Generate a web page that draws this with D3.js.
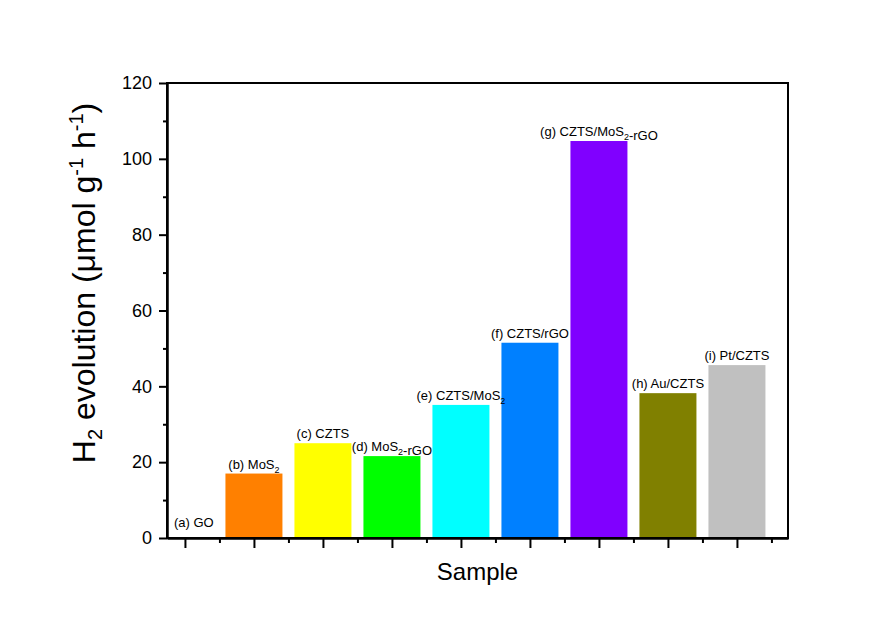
<!DOCTYPE html>
<html>
<head>
<meta charset="utf-8">
<script src="https://cdn.jsdelivr.net/npm/d3@7"></script>
<style>
  body { margin: 0; background: #fff; }
  svg text { font-family: "Liberation Sans", Arial, sans-serif; fill: #000; }
  .axis path, .axis line { stroke: #000; stroke-width: 2; }
  .axis text { font-size: 18px; }
</style>
</head>
<body>
<div id="chart"></div>
<script>
// samples, "_2" marks a subscript 2
const sampleLabels = ["(a) GO", "(b) MoS_2", "(c) CZTS", "(d) MoS_2-rGO", "(e) CZTS/MoS_2",
                      "(f) CZTS/rGO", "(g) CZTS/MoS_2-rGO", "(h) Au/CZTS", "(i) Pt/CZTS"];
const h2Rates = [0, 17.0, 25.0, 21.6, 35.1, 51.5, 104.7, 38.2, 45.6];
const barColors = ["#ffffff", "#ff8000", "#ffff00", "#00ff00", "#00ffff",
                   "#0080ff", "#8000ff", "#808000", "#c0c0c0"];
const yTicks = [0, 20, 40, 60, 80, 100, 120];
const yMinorTicks = [10, 30, 50, 70, 90, 110];

var svg_width = 896;
var svg_height = 634;
var svg = d3.select("#chart").append("svg")
    .attr("width", svg_width)
    .attr("height", svg_height);

var margin = {top: 83, right: 108, bottom: 96, left: 167};
var chart_width = svg_width - margin.left - margin.right;
var chart_height = svg_height - margin.top - margin.bottom;

var g = svg.append("g")
    .attr("transform", "translate(" + margin.left + "," + margin.top + ")");

// x-scale runs in sample index units, bars sit on the integer positions
var x = d3.scaleLinear()
    .domain([-0.26, 8.74])
    .range([0, chart_width]);

var y = d3.scaleLinear()
    .domain([0, 120])
    .range([chart_height, 0]);

var barWidth = (x(1) - x(0)) * 0.826;

// bars
g.append("g").selectAll("rect")
    .data(h2Rates)
    .enter().append("rect")
    .attr("x", function(d, i) { return x(i) - barWidth / 2; })
    .attr("y", function(d) { return y(d); })
    .attr("width", barWidth)
    .attr("height", function(d) { return chart_height - y(d); })
    .attr("fill", function(d, i) { return barColors[i]; });

// bar labels, with subscripts
var labels = g.append("g").selectAll("text")
    .data(sampleLabels)
    .enter().append("text")
    .attr("font-size", "13px")
    .attr("text-anchor", "middle")
    .attr("y", function(d, i) { return y(h2Rates[i]) - (h2Rates[i] === 0 ? 11 : 5); });

labels.each(function(d) {
  var t = d3.select(this);
  d.split(/_(\d)/).forEach(function(part, k) {
    if (!part) return;
    if (k % 2 === 1) {
      t.append("tspan").attr("font-size", "9px").attr("dy", 4).text(part);
      t.append("tspan").attr("dy", -4).text("");
    } else {
      t.append("tspan").text(part);
    }
  });
});

// keep labels clear of the y axis
labels.attr("x", function(d, i) {
  var w = this.getComputedTextLength();
  return Math.max(x(i), w / 2 + 7);
});

// x axis: major ticks at the samples, minor ones between
g.append("g")
    .attr("class", "axis")
    .attr("transform", "translate(0," + chart_height + ")")
    .call(d3.axisBottom(x).tickValues(d3.range(0, 9)).tickSize(10).tickSizeOuter(0).tickFormat(""));
g.append("g")
    .attr("class", "axis")
    .attr("transform", "translate(0," + chart_height + ")")
    .call(d3.axisBottom(x).tickValues(d3.range(0.5, 9, 1)).tickSize(5).tickSizeOuter(0).tickFormat(""));

// y axis
g.append("g")
    .attr("class", "axis")
    .call(d3.axisLeft(y).tickValues(yTicks).tickSize(8).tickPadding(7).tickSizeOuter(0));
g.append("g")
    .attr("class", "axis")
    .call(d3.axisLeft(y).tickValues(yMinorTicks).tickSize(4).tickSizeOuter(0).tickFormat(""));

// frame
g.append("rect")
    .attr("width", chart_width)
    .attr("height", chart_height)
    .attr("fill", "none")
    .attr("stroke", "#000")
    .attr("stroke-width", 2);

// axis titles
svg.append("text")
    .attr("x", margin.left + chart_width / 2)
    .attr("y", 580)
    .attr("text-anchor", "middle")
    .attr("font-size", "24px")
    .text("Sample");

var yt = svg.append("text")
    .attr("transform", "translate(95,283) rotate(-90)")
    .attr("text-anchor", "middle")
    .attr("font-size", "32px");
yt.append("tspan").text("H");
yt.append("tspan").attr("font-size", "20px").attr("dy", 7).text("2");
yt.append("tspan").attr("dy", -7).text(" evolution (\u03bcmol g");
yt.append("tspan").attr("font-size", "20px").attr("dy", -12).text("-1");
yt.append("tspan").attr("dy", 12).text(" h");
yt.append("tspan").attr("font-size", "20px").attr("dy", -12).text("-1");
yt.append("tspan").attr("dy", 12).text(")");
</script>
</body>
</html>
